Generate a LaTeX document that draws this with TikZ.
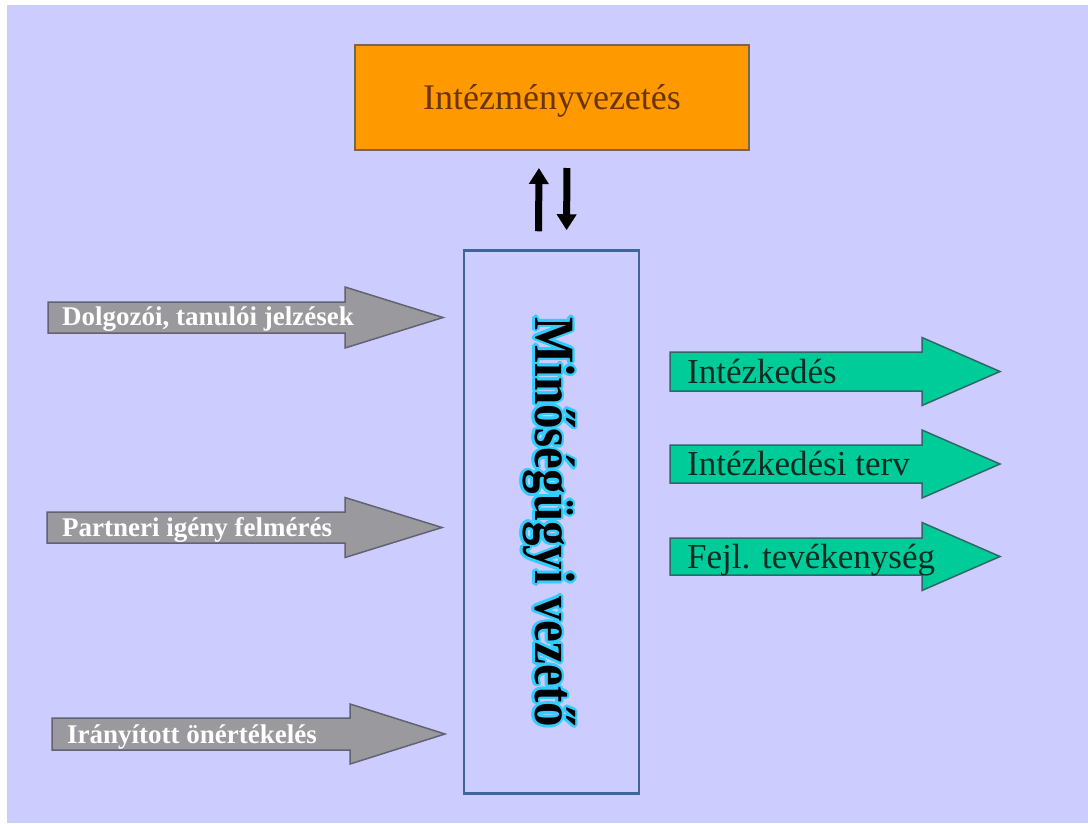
\documentclass[tikz,border=0pt]{standalone}
\usepackage{fontspec}
\setmainfont{Liberation Serif}
\usetikzlibrary{arrows.meta,calc}

\definecolor{pagebg}{HTML}{CCCCFF}
\definecolor{leadfill}{HTML}{FF9900}
\definecolor{leadline}{HTML}{6E6A55}
\definecolor{leadtext}{HTML}{6B3300}
\definecolor{mvline}{HTML}{3F6699}
\definecolor{glowcol}{HTML}{33CCFF}
\definecolor{grayfill}{HTML}{9A9A9E}
\definecolor{grayline}{HTML}{626272}
\definecolor{greenfill}{HTML}{00CC99}
\definecolor{greenline}{HTML}{336666}
\definecolor{greentext}{HTML}{0A2A22}

% block arrow: #1 style, #2 left x, #3 head base x, #4 tip x, #5 centre y,
% #6 half shaft height, #7 half head height
\newcommand\BlockArrow[7]{%
  \draw[#1] (#2,#5-#6) -- (#3,#5-#6) -- (#3,#5-#7) -- (#4,#5)
    -- (#3,#5+#7) -- (#3,#5+#6) -- (#2,#5+#6) -- cycle;}

\tikzset{
  leadbox/.style={draw=leadline, line width=2pt, fill=leadfill,
    minimum width=394pt, minimum height=105pt, inner sep=0pt,
    text=leadtext, font=\fontsize{36}{36}\selectfont,
    text height=24pt, text depth=0pt},
  mvbox/.style={draw=mvline, line width=2.5pt, minimum width=175pt,
    minimum height=543pt, inner sep=0pt},
  mvtext/.style={rotate=-90, anchor=base, inner sep=0pt,
    font=\fontsize{57}{57}\selectfont\bfseries},
  grayarrow/.style={fill=grayfill, draw=grayline, line width=1.5pt},
  greenarrow/.style={fill=greenfill, draw=greenline, line width=1.5pt},
  graylabel/.style={anchor=base west, inner sep=0pt, text=white,
    font=\fontsize{27}{27}\selectfont\bfseries},
  greenlabel/.style={anchor=base west, inner sep=0pt, text=greentext,
    font=\fontsize{35}{35}\selectfont},
  flowline/.style={line width=7pt, black,
    -{Triangle[length=16pt,width=19pt]}}
}

\begin{document}
\begin{tikzpicture}[x=1pt,y=-1pt]
\useasboundingbox (0,0) rectangle (1088,823);
\fill[white] (0,0) rectangle (1088,823);
\fill[pagebg] (7,5) rectangle (1088,823);

% top box
\node[leadbox] (lead) at (552,97.5) {Intézményvezetés};

% quality manager box with vertical title
\node[mvbox] (mv) at (551.5,522) {};
\foreach \a [count=\k] in {0,22.5,...,337.5}{
  \node[mvtext, text=glowcol] (mvglow\k) at ($(535,522)+(\a:2.6)$)
    {\scalebox{0.86}[1]{Minőségügyi vezető}};
}
\node[mvtext, text=black] (mvtitle) at (535,522)
  {\scalebox{0.86}[1]{Minőségügyi vezető}};

% two-way link between the boxes
\draw[flowline, shorten <=18pt, shorten >=17pt]
  ([xshift=-13pt]mv.north) -- ([xshift=-13pt]lead.south);
\draw[flowline, shorten <=17pt, shorten >=19pt]
  ([xshift=15pt]lead.south) -- ([xshift=15pt]mv.north);

% inputs
\BlockArrow{grayarrow}{48}{345}{443}{317.5}{15.5}{30.5}
\node[graylabel] (in1) at (62,325) {Dolgozói, tanulói jelzések};
\BlockArrow{grayarrow}{47}{345}{442}{527.5}{15.5}{30}
\node[graylabel] (in2) at (62,536) {Partneri igény felmérés};
\BlockArrow{grayarrow}{52}{350}{445}{734}{16}{30}
\node[graylabel] (in3) at (67,743) {Irányított önértékelés};

% outputs
\BlockArrow{greenarrow}{670}{922}{1000}{371.5}{19.5}{34}
\node[greenlabel] (out1) at (687,383) {Intézkedés};
\BlockArrow{greenarrow}{670}{922}{1000}{464}{19}{34}
\node[greenlabel] (out2) at (687,475) {Intézkedési terv};
\BlockArrow{greenarrow}{670}{922}{1000}{556.5}{18.5}{34}
\node[greenlabel] (out3) at (687,568) {Fejl. tevékenység};
\end{tikzpicture}
\end{document}
